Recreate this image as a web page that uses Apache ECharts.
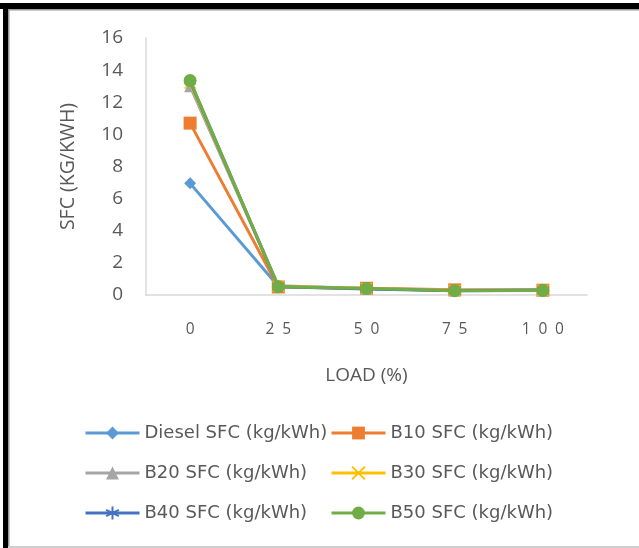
<!DOCTYPE html>
<html>
<head>
<meta charset="utf-8">
<script src="https://cdn.jsdelivr.net/npm/echarts@6/dist/echarts.min.js"></script>
<style>
  html, body { margin: 0; padding: 0; background: #fff; }
  #chart { width: 639px; height: 548px; }
</style>
</head>
<body>
<div id="chart"></div>
<script>
// Engine load (%) on the x axis
const loads = ['0', '25', '50', '75', '100'];

// Specific fuel consumption (kg/kWh) for each fuel blend
const dieselSfc = [6.95, 0.55, 0.40, 0.30, 0.35];
const b10Sfc    = [10.7, 0.50, 0.42, 0.32, 0.30];
const b20Sfc    = [13.0, 0.58, 0.40, 0.28, 0.30];
const b30Sfc    = [13.2, 0.55, 0.40, 0.28, 0.30];
const b40Sfc    = [13.3, 0.52, 0.38, 0.27, 0.29];
const b50Sfc    = [13.35, 0.52, 0.40, 0.27, 0.28];

const seriesNames = [
  'Diesel SFC (kg/kWh)', 'B10 SFC (kg/kWh)', 'B20 SFC (kg/kWh)',
  'B30 SFC (kg/kWh)', 'B40 SFC (kg/kWh)', 'B50 SFC (kg/kWh)'
];

const yTicks = { min: 0, max: 16, interval: 2 };

const FONT = '"Open Sans", "Liberation Sans", sans-serif';
const LEGEND_FONT = '"DejaVu Sans", "Open Sans", sans-serif';
const TXT = '#595959';

const crossPath = 'path://M0,0L10,10M10,0L0,10';
const starPath = 'path://M5,0L5,10M0,2.5L10,7.5M0,7.5L10,2.5';

const styles = [
  { color: '#5B9BD5', symbol: 'diamond', size: 12 },
  { color: '#ED7D31', symbol: 'rect', size: 13 },
  { color: '#A5A5A5', symbol: 'triangle', size: 12 },
  { color: '#FFC000', symbol: crossPath, size: 11, stroke: true },
  { color: '#4472C4', symbol: starPath, size: 11, stroke: true },
  { color: '#70AD47', symbol: 'circle', size: 13 }
];
const values = [dieselSfc, b10Sfc, b20Sfc, b30Sfc, b40Sfc, b50Sfc];

const series = seriesNames.map((name, i) => {
  const s = styles[i];
  return {
    name,
    type: 'line',
    data: values[i],
    symbol: s.symbol,
    symbolSize: s.size,
    showSymbol: true,
    lineStyle: { color: s.color, width: 3 },
    itemStyle: s.stroke
      ? { color: s.color, borderColor: s.color, borderWidth: 1.5 }
      : { color: s.color, borderWidth: 0 },
    z: 2 + i
  };
});

// Legend: three rows of two entries
const legendRows = [433, 473, 513];
const legendCols = [84, 330];
const legends = seriesNames.map((name, i) => ({
  data: [name],
  left: legendCols[i % 2],
  top: legendRows[Math.floor(i / 2)] - 9,
  padding: 0,
  itemWidth: 54,
  itemHeight: 16,
  itemGap: 0,
  itemTextGap: 1,
  selectedMode: false,
  lineStyle: { width: 3 },
  textStyle: { fontFamily: LEGEND_FONT, fontSize: 18, color: TXT }
}));

const chart = echarts.init(document.getElementById('chart'), null, { renderer: 'canvas' });
chart.setOption({
  animation: false,
  backgroundColor: '#ffffff',
  grid: { left: 146, right: 52, top: 38, bottom: 253 },
  legend: legends,
  xAxis: {
    type: 'category',
    data: loads,
    boundaryGap: true,
    name: 'LOAD (%)',
    nameLocation: 'middle',
    nameGap: 71,
    nameTextStyle: { fontFamily: FONT, fontSize: 19, color: TXT },
    axisLine: { lineStyle: { color: '#D9D9D9', width: 1.5 } },
    axisTick: { show: false },
    axisLabel: {
      margin: 27,
      fontFamily: FONT, fontSize: 15.5, color: TXT,
      formatter: v => String(v).split('').join('\u2002')
    }
  },
  yAxis: {
    type: 'value',
    min: yTicks.min, max: yTicks.max, interval: yTicks.interval,
    name: 'SFC (KG/KWH)',
    nameLocation: 'middle',
    nameGap: 68,
    nameTextStyle: { fontFamily: FONT, fontSize: 19.5, color: TXT },
    axisLine: { show: true, lineStyle: { color: '#D9D9D9', width: 1.5 } },
    axisTick: { show: false },
    splitLine: { show: false },
    axisLabel: { margin: 23, fontFamily: FONT, fontSize: 19, color: TXT }
  },
  series,
  graphic: [
    // frame: heavy dark edge on top and left, thin grey edge inside and at bottom
    { type: 'rect', shape: { x: 0, y: 3, width: 639, height: 6 }, style: { fill: '#000' }, silent: true },
    { type: 'rect', shape: { x: 3, y: 3, width: 5, height: 545 }, style: { fill: '#000' }, silent: true },
    { type: 'rect', shape: { x: 9, y: 9, width: 630, height: 1.5 }, style: { fill: '#9a9a9a' }, silent: true },
    { type: 'rect', shape: { x: 8, y: 9, width: 1.5, height: 539 }, style: { fill: '#9a9a9a' }, silent: true },
    { type: 'rect', shape: { x: 8, y: 546, width: 631, height: 2 }, style: { fill: '#cfcfcf' }, silent: true }
  ]
});
</script>
</body>
</html>
